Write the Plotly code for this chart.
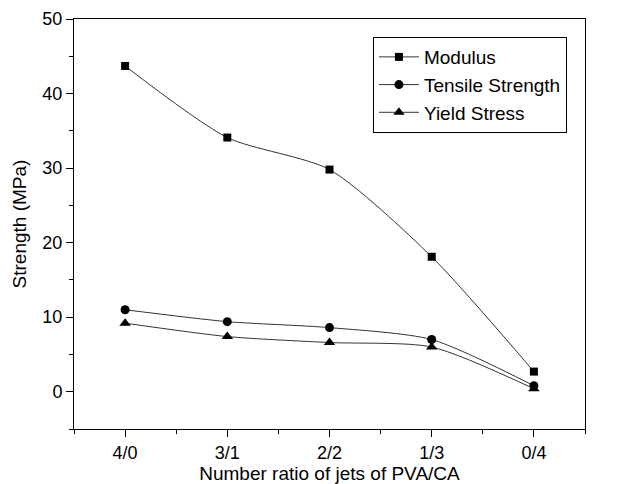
import plotly.graph_objects as go

categories = ["4/0", "3/1", "2/2", "1/3", "0/4"]
modulus = [43.7, 34.1, 29.8, 18.1, 2.7]
tensile = [11.0, 9.4, 8.6, 7.0, 0.8]
yield_stress = [9.2, 7.4, 6.6, 6.0, 0.4]

xpos = list(range(len(categories)))

fig = go.Figure()
series = [
    ("Modulus", modulus, "square", 8),
    ("Tensile Strength", tensile, "circle", 9),
    ("Yield Stress", yield_stress, "triangle-up", 10),
]
for name, vals, sym, sz in series:
    fig.add_trace(go.Scatter(
        x=xpos, y=vals, name=name, mode="lines+markers",
        line=dict(color="#333333", width=1, shape="spline", smoothing=0.7),
        marker=dict(symbol=sym, size=sz, color="black"),
    ))

axis_font = dict(family="Liberation Sans, Arial, sans-serif", size=18, color="black")
fig.update_layout(
    width=631, height=484,
    margin=dict(l=74, r=46, t=19, b=55),
    plot_bgcolor="white", paper_bgcolor="white",
    font=axis_font,
    showlegend=True,
    legend=dict(
        x=0.585, y=0.956, xanchor="left", yanchor="top",
        bordercolor="black", borderwidth=1, bgcolor="white",
        font=dict(size=19), tracegroupgap=0, itemwidth=40,
    ),
    xaxis=dict(
        range=[-0.5, 4.5], tickvals=xpos, ticktext=categories, automargin=False,
        showline=True, linecolor="black", linewidth=1, mirror=True,
        ticks="outside", ticklen=7, tickcolor="black", showgrid=False, zeroline=False,
        minor=dict(tickvals=[-0.5, 0.5, 1.5, 2.5, 3.5, 4.5], ticks="outside", ticklen=4, tickcolor="black"),
        title=dict(text="Number ratio of jets of PVA/CA", font=dict(size=19), standoff=4),
        tickfont=dict(size=18),
    ),
    yaxis=dict(
        range=[-5, 50], tickvals=[0, 10, 20, 30, 40, 50], automargin=False,
        showline=True, linecolor="black", linewidth=1, mirror=True,
        ticks="outside", ticklen=7, tickcolor="black", showgrid=False, zeroline=False,
        minor=dict(tickvals=[-5, 5, 15, 25, 35, 45], ticks="outside", ticklen=4, tickcolor="black"),
        title=dict(text="Strength (MPa)", font=dict(size=19), standoff=10),
        tickfont=dict(size=18),
    ),
)
fig.write_html("out.html")
